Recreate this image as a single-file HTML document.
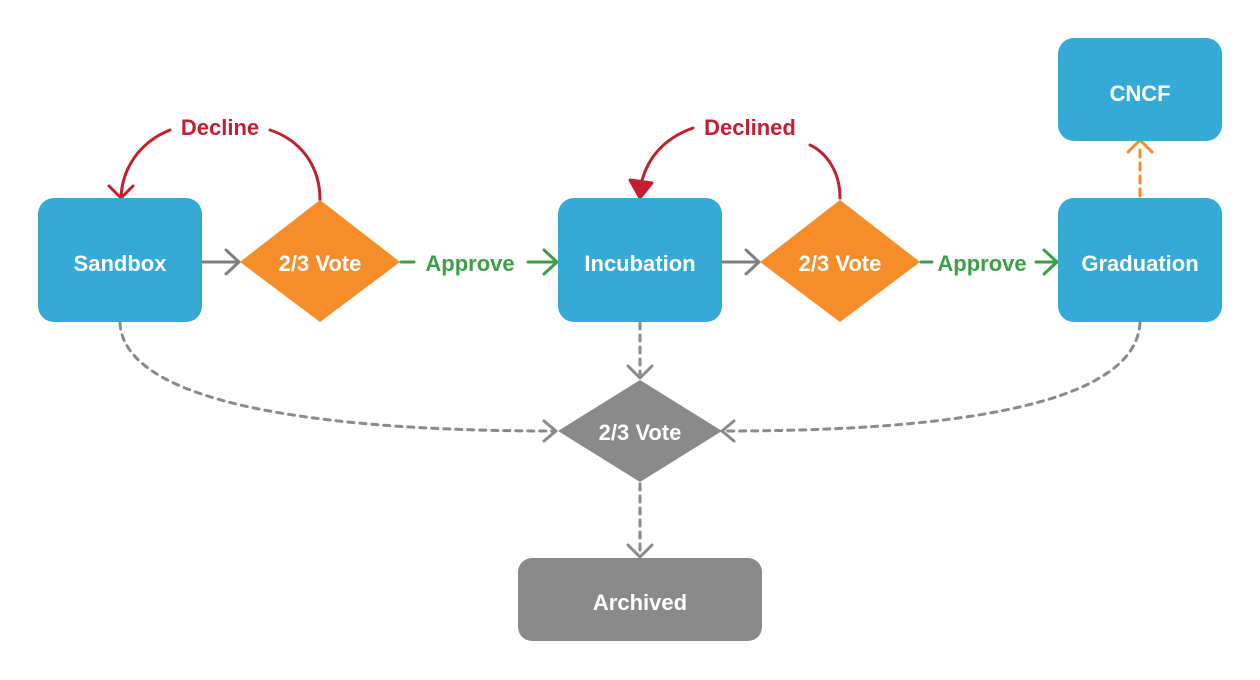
<!DOCTYPE html>
<html><head><meta charset="utf-8"><style>
html,body{margin:0;padding:0;background:#fff;}
svg{display:block;}
text{font-family:"Liberation Sans",sans-serif;font-weight:bold;}
</style></head><body>
<svg width="1260" height="680" viewBox="0 0 1260 680" xmlns="http://www.w3.org/2000/svg">
<g fill="none" stroke-width="3" stroke-linecap="round" stroke-linejoin="round">
<path d="M202 262 H238 M226 250 L239 262 L226 274" stroke="#7f7f7f"/>
<path d="M722 262 H758 M746 250 L759 262 L746 274" stroke="#7f7f7f"/>
<path d="M401 262 H414 M528 262 H556 M544 250 L557 262 L544 274" stroke="#3f9e45"/>
<path d="M921 262 H932 M1036 262 H1056 M1044 250 L1057 262 L1044 274" stroke="#3f9e45"/>
<path d="M320 200 C320 165 300 140 270 130" stroke="#c0202f"/>
<path d="M170 130 C140 142 122 168 121 198 M109 186 L121 198 L133 186" stroke="#c0202f"/>
<path d="M840 198 C840 170 825 152 810 145" stroke="#c0202f"/>
<path d="M693 128 C665 138 645 158 640 190" stroke="#c0202f"/>
<path d="M630 180 L640 198 L652 183 Z" fill="#c0202f" stroke="#c0202f"/>
<path d="M1140 196 V145" stroke="#f58d2a" stroke-dasharray="7 6"/>
<path d="M1128 152 L1140 140 L1152 152" stroke="#f58d2a"/>
<g stroke="#8a8a8a" stroke-dasharray="6 6">
<path d="M120 323 C125 410 350 431 552 431"/>
<path d="M1140 323 C1135 410 930 431 726 431"/>
<path d="M640 323 V374"/>
<path d="M640 484 V552"/>
</g>
<g stroke="#8a8a8a">
<path d="M544 421 L556 431 L544 441"/>
<path d="M734 421 L722 431 L734 441"/>
<path d="M628 366 L640 378 L652 366"/>
<path d="M628 545 L640 557 L652 545"/>
</g>
</g>
<g fill="#36aad6">
<rect x="38" y="198" width="164" height="124" rx="16"/>
<rect x="558" y="198" width="164" height="124" rx="16"/>
<rect x="1058" y="198" width="164" height="124" rx="16"/>
<rect x="1058" y="38" width="164" height="103" rx="16"/>
</g>
<polygon points="240,262 320,200 400,262 320,322" fill="#f58d2a"/>
<polygon points="760,262 840,200 920,262 840,322" fill="#f58d2a"/>
<polygon points="558,431 640,380 722,431 640,482" fill="#8a8a8a"/>
<rect x="518" y="558" width="244" height="83" rx="14" fill="#8a8a8a"/>
<g fill="#fff" font-size="22" text-anchor="middle">
<text x="120" y="271">Sandbox</text>
<text x="320" y="271">2/3 Vote</text>
<text x="640" y="271">Incubation</text>
<text x="840" y="271">2/3 Vote</text>
<text x="1140" y="271">Graduation</text>
<text x="1140" y="101">CNCF</text>
<text x="640" y="440">2/3 Vote</text>
<text x="640" y="610">Archived</text>
</g>
<g font-size="22" text-anchor="middle">
<text x="220" y="135" fill="#c0202f">Decline</text>
<text x="750" y="135" fill="#c0202f">Declined</text>
<text x="470" y="271" fill="#3f9e45">Approve</text>
<text x="982" y="271" fill="#3f9e45">Approve</text>
</g>
</svg>
</body></html>
